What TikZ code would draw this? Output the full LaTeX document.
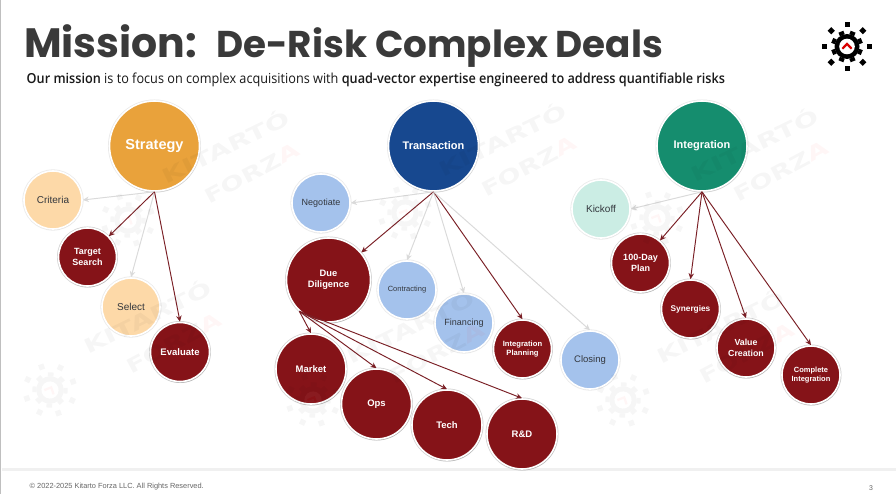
\documentclass[tikz,border=0pt]{standalone}
\usepackage{fontspec}
\usetikzlibrary{arrows.meta,shadows}
\setmainfont{Liberation Sans}
\newfontfamily\titlefont{Poppins}
\newfontfamily\subfont[BoldFont={Open Sans Semibold}]{Open Sans}
\newfontfamily\wmfont{DejaVu Sans}
\definecolor{cStrategy}{HTML}{E9A23B}
\definecolor{cTrans}{HTML}{17488F}
\definecolor{cInteg}{HTML}{158D6E}
\definecolor{cPeach}{HTML}{FDD9A8}
\definecolor{cBlue}{HTML}{A4C2EC}
\definecolor{cMint}{HTML}{CBEDE4}
\definecolor{cRed}{HTML}{851318}
\definecolor{cArrow}{HTML}{7A1F25}
\definecolor{cLight}{HTML}{DADADA}
\definecolor{cTitle}{HTML}{3A3A3A}
\definecolor{cLabel}{HTML}{33373D}
\newcommand{\kfgear}[2]{%
  \fill[#1] (0,0) circle[radius=12.5];
  \foreach \a in {0,45,...,315}{
    \fill[#1,rotate=\a+22.5] (12.2,-2.6) rectangle (16,2.6);
    \fill[#1,rotate=\a] (19.8,-2.5) rectangle (24.8,2.5);
  }
  \fill[white] (0,0) circle[radius=7.8];
  \draw[#2,line width=2.2] (-4.6,2.2) -- (0,-2.6) -- (4.6,2.2);
}
\newcommand{\kfwatermark}[2]{%
  \begin{scope}[shift={(#1,#2)},opacity=.034,transparency group]
    \begin{scope}[scale=1.1,rotate=-25]
      \kfgear{black}{red}
    \end{scope}
    \node[rotate=26,inner sep=0] (wmk#1) at (97,-74) {\wmfont\bfseries\fontsize{20}{20}\selectfont\scalebox{1.45}[1]{KITART\'O}};
    \node[rotate=28,inner sep=0] (wmf#1) at (124,-47) {\wmfont\bfseries\fontsize{20}{20}\selectfont\scalebox{1.38}[1]{FORZ\textcolor{red}{A}}};
  \end{scope}
}
\tikzset{
  ball/.style={circle,inner sep=0,align=center,font=\bfseries,text=white,draw=white,line width=1.6,
    preaction={draw=black!18,line width=3},
    drop shadow={shadow xshift=.6pt,shadow yshift=-1.4pt,opacity=.14,fill=black}},
  topball/.style={circle,inner sep=0,align=center,text=white,draw=white,line width=1.6,
    preaction={draw=black!9,line width=3},
    drop shadow={shadow xshift=.6pt,shadow yshift=-1.6pt,opacity=.1,fill=black}},
  lite/.style={circle,inner sep=0,align=center,text=cLabel,draw=white,line width=1.6,
    preaction={draw=black!8,line width=3.2},
    drop shadow={shadow xshift=.4pt,shadow yshift=-1pt,opacity=.06,fill=black}},
  darkarrow/.style={draw=cArrow,line width=.95,-{Stealth[length=6pt,width=5.5pt]}},
  lightarrow/.style={draw=cLight,line width=.95,-{Stealth[length=6pt,width=5.5pt]}},
}
\begin{document}
\begin{tikzpicture}[x=1pt,y=-1pt]
\useasboundingbox (0,0) rectangle (896,494);
\fill[white] (0,0) rectangle (896,494);
\fill[black!25] (0,0) rectangle (1.4,494);
\fill[black!6] (2,468) rectangle (896,471);

\node[anchor=base west,inner sep=0,text=cTitle] (t1) at (24,57.5) {\titlefont\bfseries\fontsize{41}{41}\selectfont Mission:};
\node[anchor=base west,inner sep=0,text=cTitle] (t2) at (216,57.5) {\titlefont\bfseries\fontsize{37.3}{37}\selectfont De-Risk Complex Deals};
\node[anchor=base west,inner sep=0,text=black!90] (sub) at (26.5,83.5) {\subfont\fontsize{13.8}{14}\selectfont\scalebox{.92}[1]{\textbf{Our mission} is to focus on complex acquisitions with \textbf{quad-vector expertise engineered to address quantifiable risks}}};

\begin{scope}[shift={(847,46.5)}]
  \kfgear{black}{red!85!black}
\end{scope}

% parents
\node[topball,fill=cStrategy,minimum size=90pt,font=\bfseries\fontsize{14.5}{14}\selectfont] (strategy) at (154.5,146) {\raisebox{-1.2pt}{Strategy}};
\node[topball,fill=cTrans,minimum size=90pt,font=\bfseries\fontsize{11}{11}\selectfont] (transaction) at (433.5,146) {\raisebox{-.8pt}{Transaction}};
\node[topball,fill=cInteg,minimum size=90pt,font=\bfseries\fontsize{11}{11}\selectfont] (integration) at (702,146) {\raisebox{-1.2pt}{Integration}};

% strategy children
\node[lite,fill=cPeach,minimum size=58pt,font=\fontsize{10}{10}\selectfont] (criteria) at (53,200) {Criteria};
\node[ball,fill=cRed,minimum size=58pt,font=\bfseries\fontsize{9}{10.5}\selectfont] (target) at (87.5,257) {Target\\Search};
\node[lite,fill=cPeach,minimum size=58pt,font=\fontsize{10}{10}\selectfont] (select) at (131,307) {Select};
\node[ball,fill=cRed,minimum size=59pt,font=\bfseries\fontsize{9.5}{10}\selectfont] (evaluate) at (180,352) {Evaluate};

% transaction children
\node[lite,fill=cBlue,minimum size=58pt,font=\fontsize{9}{10}\selectfont] (negotiate) at (321,203) {Negotiate};
\node[ball,fill=cRed,minimum size=84pt,font=\bfseries\fontsize{9.3}{11}\selectfont] (dd) at (328.5,280) {Due\\Diligence};
\node[lite,fill=cBlue,minimum size=58pt,font=\fontsize{7.5}{9}\selectfont] (contracting) at (407,290) {Contracting};
\node[lite,fill=cBlue,minimum size=58pt,font=\fontsize{9}{10}\selectfont] (financing) at (464,323) {Financing};
\node[ball,fill=cRed,minimum size=58pt,font=\bfseries\fontsize{7.6}{9.2}\selectfont] (iplan) at (522.5,349) {Integration\\Planning};
\node[lite,fill=cBlue,minimum size=58pt,font=\fontsize{9.5}{10}\selectfont] (closing) at (590,360) {Closing};
\node[ball,fill=cRed,minimum size=70pt,font=\bfseries\fontsize{9.5}{10}\selectfont] (market) at (311,369) {Market};
\node[ball,fill=cRed,minimum size=70pt,font=\bfseries\fontsize{9.5}{10}\selectfont] (ops) at (376.5,404) {Ops};
\node[ball,fill=cRed,minimum size=70pt,font=\bfseries\fontsize{9.5}{10}\selectfont] (tech) at (447,425) {Tech};
\node[ball,fill=cRed,minimum size=70pt,font=\bfseries\fontsize{9.5}{10}\selectfont] (rd) at (522,434) {R\&D};

% integration children
\node[lite,fill=cMint,minimum size=58pt,font=\fontsize{10}{10}\selectfont] (kickoff) at (601,209) {Kickoff};
\node[ball,fill=cRed,minimum size=58pt,font=\bfseries\fontsize{9}{10.5}\selectfont] (hundred) at (640.5,263) {100-Day\\Plan};
\node[ball,fill=cRed,minimum size=58pt,font=\bfseries\fontsize{8.3}{10}\selectfont] (synergies) at (690.5,309) {Synergies};
\node[ball,fill=cRed,minimum size=58pt,font=\bfseries\fontsize{8.8}{10.5}\selectfont] (value) at (746,348) {Value\\Creation};
\node[ball,fill=cRed,minimum size=58pt,font=\bfseries\fontsize{7.5}{9.5}\selectfont] (complete) at (811,375) {Complete\\Integration};

% connectors
\draw[lightarrow] (strategy.south) -- (criteria.east);
\draw[darkarrow] (strategy.south) -- (target);
\draw[lightarrow] (strategy.south) -- (select.north);
\draw[darkarrow] (strategy.south) -- (evaluate.north);

\draw[lightarrow] (transaction.south) -- (negotiate.east);
\draw[darkarrow] (transaction.south) -- (dd);
\draw[lightarrow] (transaction.south) -- (contracting.north);
\draw[lightarrow] (transaction.south) -- (financing.north);
\draw[darkarrow] (transaction.south) -- (iplan.north);
\draw[lightarrow] (transaction.south) -- (closing.north);

\draw[darkarrow] (dd.227) -- (market.north);
\draw[darkarrow] (dd.227) -- (ops.north);
\draw[darkarrow] (dd.227) -- (tech.north);
\draw[darkarrow] (dd.227) -- (rd.north);

\draw[lightarrow] (integration.south) -- (kickoff.east);
\draw[darkarrow] (integration.south) -- (hundred);
\draw[darkarrow] (integration.south) -- (synergies.north);
\draw[darkarrow] (integration.south) -- (value.north);
\draw[darkarrow] (integration.south) -- (complete.north);

% watermark
\kfwatermark{128}{220}
\kfwatermark{405}{213}
\kfwatermark{657}{218}
\kfwatermark{50}{390}
\kfwatermark{313}{400}
\kfwatermark{623}{400}

\node[anchor=base west,inner sep=0,text=black!60] (copy) at (29.5,488.5) {\fontsize{7.4}{7}\selectfont\textcopyright\ 2022-2025 Kitarto Forza LLC. All Rights Reserved.};
\node[anchor=base,inner sep=0,text=black!60] (page) at (871,490) {\fontsize{6.9}{7}\selectfont 3};
\end{tikzpicture}
\end{document}
